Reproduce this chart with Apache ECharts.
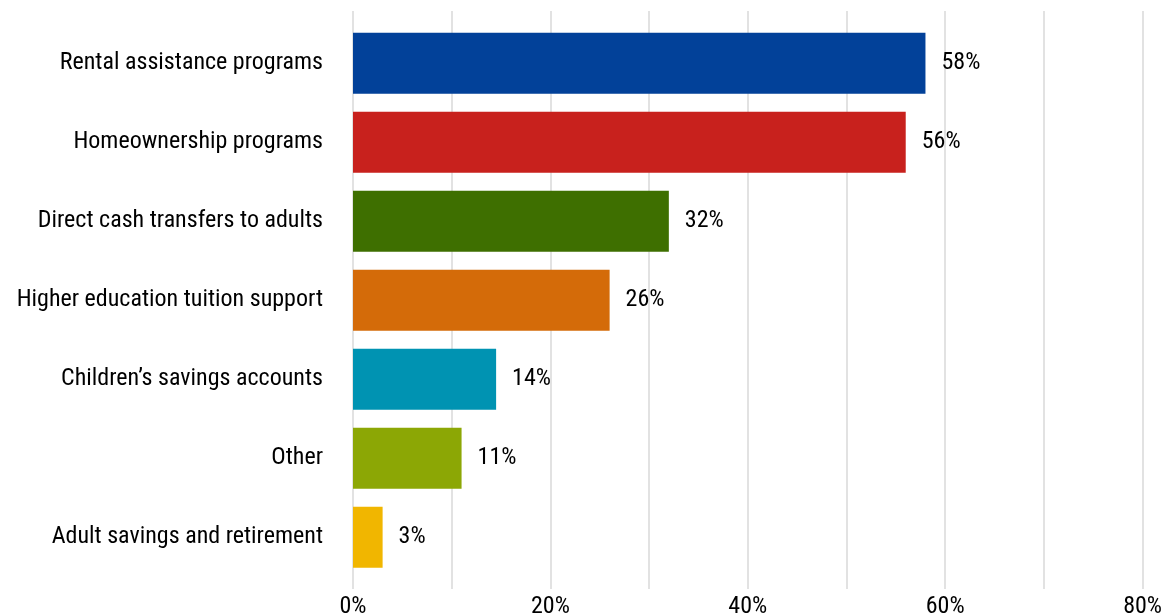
<!DOCTYPE html>
<html>
<head>
<meta charset="utf-8">
<script src="https://cdn.jsdelivr.net/npm/echarts@6/dist/echarts.min.js"></script>
<style>
html,body{margin:0;padding:0;background:#fff;}
#c{width:1165px;height:615px;}
</style>
</head>
<body>
<div id="c"></div>
<script>
const categories = [
  "Rental assistance programs",
  "Homeownership programs",
  "Direct cash transfers to adults",
  "Higher education tuition support",
  "Children\u2019s savings accounts",
  "Other",
  "Adult savings and retirement"
];
const values = [58, 56, 32, 26, 14.5, 11, 3];
const labels = ["58%", "56%", "32%", "26%", "14%", "11%", "3%"];
const colors = ["#024199", "#c8211d", "#3e6f00", "#d46b09", "#0093b2", "#8ca705", "#f1b600"];
const axisMin = 0, axisMax = 80, gridStep = 10, labelStep = 20;

const FONT = "Roboto, 'Liberation Sans', sans-serif";
const STRETCH = 'condensed';
const FS = 24;

const chart = echarts.init(document.getElementById('c'), null, {renderer: 'canvas'});
chart.setOption({
  animation: false,
  backgroundColor: '#ffffff',
  grid: [
    {left: 353, right: 22.4, top: 11, bottom: 26, containLabel: false, outerBoundsMode: 'none'},
    {left: 353, right: 22.4, top: 23.8, height: 553, containLabel: false, outerBoundsMode: 'none'}
  ],
  xAxis: [
    {
      gridIndex: 0, type: 'value', min: axisMin, max: axisMax, interval: gridStep,
      axisLine: {show: false}, axisTick: {show: false},
      splitLine: {show: true, lineStyle: {color: '#d9d9d9', width: 1.5}},
      axisLabel: {
        margin: 6, color: '#000', fontFamily: FONT, fontWeight: STRETCH, fontSize: FS,
        formatter: v => (v % labelStep === 0 ? v + '%' : '')
      }
    },
    {
      gridIndex: 1, type: 'value', min: axisMin, max: axisMax,
      show: false
    }
  ],
  yAxis: [
    {
      gridIndex: 0, type: 'value', show: false, min: 0, max: 1
    },
    {
      gridIndex: 1, type: 'category', data: categories, inverse: true,
      axisLine: {show: false}, axisTick: {show: false}, splitLine: {show: false},
      axisLabel: {margin: 30, color: '#000', fontFamily: FONT, fontWeight: STRETCH, fontSize: FS, padding: [4, 0, 0, 0]}
    }
  ],
  series: [{
    type: 'bar',
    xAxisIndex: 1, yAxisIndex: 1,
    barWidth: 61,
    data: values.map((v, i) => ({value: v, itemStyle: {color: colors[i]}})),
    label: {
      show: true, position: 'right', distance: 16,
      color: '#000', fontFamily: FONT, fontWeight: STRETCH, fontSize: FS,
      padding: [4, 0, 0, 0],
      formatter: p => labels[p.dataIndex]
    }
  }]
});
</script>
</body>
</html>
